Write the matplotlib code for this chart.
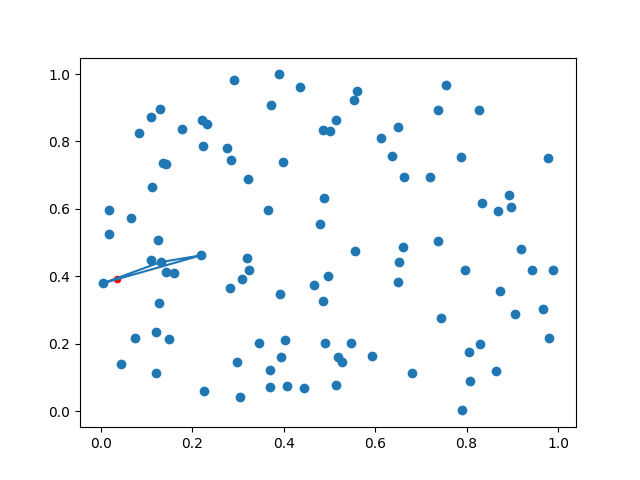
import matplotlib
matplotlib.use("Agg")
import matplotlib.pyplot as plt
import numpy as np

x = [0.004, 0.219, 0.018, 0.018, 0.066, 0.044, 0.075, 0.084, 0.109, 0.129,
     0.178, 0.112, 0.136, 0.142, 0.221, 0.232, 0.224, 0.276, 0.285, 0.291,
     0.323, 0.125, 0.109, 0.131, 0.142, 0.160, 0.128, 0.120, 0.149, 0.121,
     0.226, 0.283, 0.298, 0.305, 0.310, 0.320, 0.325,
     0.390, 0.436, 0.373, 0.561, 0.554, 0.515, 0.486, 0.502, 0.651, 0.613,
     0.637, 0.664, 0.399, 0.489, 0.366, 0.480, 0.556, 0.662, 0.653, 0.651,
     0.392, 0.497, 0.467, 0.486, 0.346, 0.403, 0.491, 0.548, 0.395, 0.519,
     0.528, 0.594, 0.370, 0.370, 0.408, 0.445, 0.515, 0.681,
     0.756, 0.738, 0.827, 0.788, 0.977, 0.721, 0.893, 0.834, 0.869, 0.898,
     0.738, 0.918, 0.797, 0.944, 0.990, 0.874, 0.968, 0.906, 0.744, 0.981,
     0.829, 0.806, 0.864, 0.807, 0.790]
y = [0.379, 0.462, 0.596, 0.525, 0.572, 0.139, 0.217, 0.824, 0.874, 0.895,
     0.836, 0.664, 0.735, 0.732, 0.863, 0.851, 0.788, 0.782, 0.745, 0.981,
     0.688, 0.509, 0.447, 0.442, 0.412, 0.409, 0.320, 0.234, 0.214, 0.112,
     0.061, 0.364, 0.145, 0.042, 0.391, 0.453, 0.420,
     0.999, 0.961, 0.907, 0.949, 0.922, 0.863, 0.833, 0.830, 0.842, 0.809,
     0.756, 0.696, 0.738, 0.632, 0.596, 0.554, 0.474, 0.486, 0.441, 0.382,
     0.346, 0.400, 0.373, 0.326, 0.201, 0.210, 0.201, 0.201, 0.159, 0.160,
     0.145, 0.162, 0.121, 0.070, 0.074, 0.067, 0.077, 0.112,
     0.969, 0.892, 0.892, 0.753, 0.750, 0.696, 0.640, 0.616, 0.593, 0.605,
     0.504, 0.480, 0.420, 0.418, 0.418, 0.355, 0.302, 0.287, 0.275, 0.216,
     0.198, 0.174, 0.118, 0.088, 0.002]

query_x = [0.036]
query_y = [0.391]

path_x = [0.004, 0.131, 0.219, 0.004]
path_y = [0.379, 0.442, 0.462, 0.379]

fig, ax = plt.subplots(figsize=(6.4, 4.8), dpi=100)
ax.scatter(x, y, color="C0")
ax.scatter(query_x, query_y, color="red", s=20)
ax.plot(path_x, path_y, color="C0")
fig.savefig("out.png")
